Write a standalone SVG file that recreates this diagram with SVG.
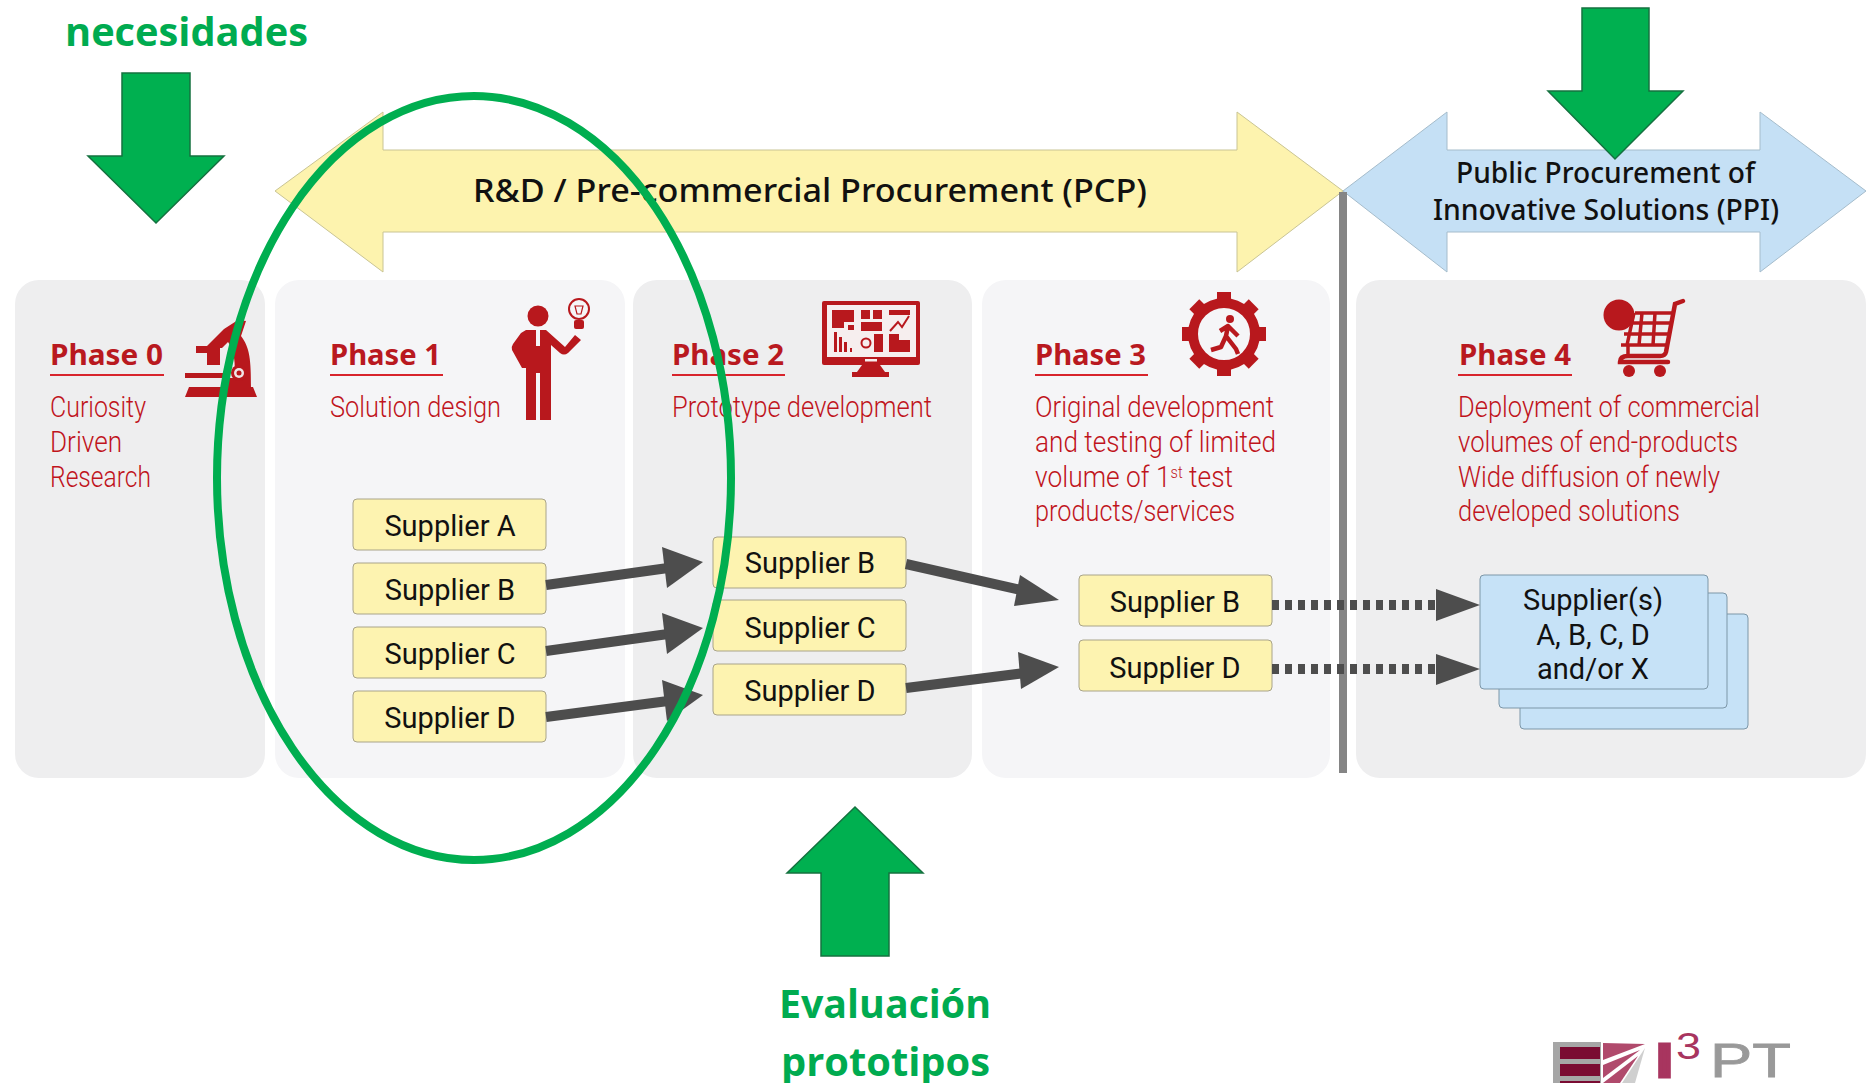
<svg xmlns="http://www.w3.org/2000/svg" width="1869" height="1083" viewBox="0 0 1869 1083">
<style>
.panel{fill:#eeeeef}
.panel2{fill:#f5f5f7}
.ph{font-family:"Noto Sans","DejaVu Sans",sans-serif;font-weight:700;font-size:29px;fill:#b9191f}
.d{font-family:"Roboto","Noto Sans",sans-serif;font-weight:300;font-size:29px;fill:#c0141c}
.ul{stroke:#d8242c;stroke-width:2}
.sup{fill:#fdf3b0;stroke:#a9a48a;stroke-width:1}
.blue{fill:#c6e2f7;stroke:#7d97a8;stroke-width:1}
.st{font-family:"Roboto","Noto Sans",sans-serif;font-weight:400;font-size:29px;fill:#111;text-anchor:middle}
.ti{font-family:"Noto Sans","DejaVu Sans",sans-serif;font-weight:500;font-size:33px;fill:#111}
.pp{font-family:"Noto Sans","DejaVu Sans",sans-serif;font-weight:500;font-size:28px;fill:#111}
.g{font-family:"Open Sans","Noto Sans",sans-serif;font-weight:700;font-size:40px;fill:#00ab50}
.gb{fill:#00b050;stroke:#14713f;stroke-width:1.5}
.ic{fill:#b8181d}
.icl{fill:none;stroke:#b8181d}
.con{stroke:#4d4d4d;stroke-width:10;fill:none}
.dot{stroke:#4d4d4d;stroke-width:10;fill:none;stroke-dasharray:7 6}
.hd{fill:#4d4d4d}
</style>
<rect width="1869" height="1083" fill="#fff"/>
<g id="panels">
<rect class="panel" x="15" y="280" width="250" height="498" rx="24"/>
<rect class="panel2" x="275" y="280" width="350" height="498" rx="24"/>
<rect class="panel" x="633" y="280" width="339" height="498" rx="24"/>
<rect class="panel2" x="982" y="280" width="348" height="498" rx="24"/>
<rect class="panel" x="1356" y="280" width="510" height="498" rx="24"/>
</g>
<g id="pcp-band">
<polygon points="275,191 383,112 383,150 1237,150 1237,112 1343,191 1237,272 1237,232 383,232 383,272" fill="#fdf3ae" stroke="#c9c494" stroke-width="1"/>
<text class="ti" x="473" y="202" textLength="674" lengthAdjust="spacingAndGlyphs">R&amp;D / Pre-commercial Procurement (PCP)</text>
</g>
<g id="ppi-band">
<polygon points="1343,191 1447,112 1447,150 1760,150 1760,112 1866,191 1760,272 1760,232 1447,232 1447,272" fill="#c5e0f5" stroke="#a5bccb" stroke-width="1"/>
<text class="pp" x="1456" y="183" textLength="299" lengthAdjust="spacingAndGlyphs">Public Procurement of</text>
<text class="pp" x="1433" y="220" textLength="346" lengthAdjust="spacingAndGlyphs">Innovative Solutions (PPI)</text>
</g>
<rect id="divider" x="1339" y="192" width="8" height="581" fill="#858585"/>
<g id="phase0">
<text class="ph" x="50" y="365" textLength="113" lengthAdjust="spacingAndGlyphs">Phase 0</text>
<line class="ul" x1="50" y1="375" x2="164" y2="375"/>
<text class="d" x="50" y="417" textLength="96" lengthAdjust="spacingAndGlyphs">Curiosity</text>
<text class="d" x="50" y="452" textLength="72" lengthAdjust="spacingAndGlyphs">Driven</text>
<text class="d" x="50" y="487" textLength="101" lengthAdjust="spacingAndGlyphs">Research</text>
<g id="icon-microscope">
<polygon class="ic" points="185,397 257,397 253,387 189,387"/>
<rect class="ic" x="185" y="373" width="40" height="5"/>
<path class="ic" d="M196,346 H207 L224,329 L238,320 L246,321 L241,336 C250,348 251,360 251,388 H222 V378 H234 C236,364 234,350 228,342 L222,348 H220 V365 H207 V353 H196Z"/>
<circle cx="239" cy="373" r="8" class="ic"/>
<circle cx="239" cy="373" r="5" fill="#f0e6e6"/>
<circle cx="239" cy="373" r="2.5" class="ic"/>
</g>
</g>
<g id="phase1">
<text class="ph" x="330" y="365" textLength="111" lengthAdjust="spacingAndGlyphs">Phase 1</text>
<line class="ul" x1="330" y1="375" x2="443" y2="375"/>
<text class="d" x="330" y="417" textLength="171" lengthAdjust="spacingAndGlyphs">Solution design</text>
<g id="icon-man">
<circle class="ic" cx="538" cy="316" r="10.5"/>
<path class="ic" d="M526,330 H546 L565,347 L575,335 L581,340 L568,353 Q564,356 560,353 L551,345 V420 H540 V373 H536 V420 H526 V368 L522,368 L512,350 Q511,347 513,344 L521,333Z"/>
<path d="M538,330 v16" stroke="#f5f5f7" stroke-width="4"/>
<circle cx="579" cy="309" r="10" fill="#f5f5f7" stroke="#b8181d" stroke-width="2"/>
<rect class="ic" x="574" y="320" width="10" height="9" rx="2"/>
<path class="icl" stroke-width="1.2" d="M575,306 h8 l-2,8 h-4z"/>
</g>
</g>
<g id="phase2">
<text class="ph" x="672" y="365" textLength="112" lengthAdjust="spacingAndGlyphs">Phase 2</text>
<line class="ul" x1="672" y1="375" x2="785" y2="375"/>
<text class="d" x="672" y="417" textLength="260" lengthAdjust="spacingAndGlyphs">Prototype development</text>
<g id="icon-monitor">
<rect class="ic" x="822" y="301" width="98" height="64" rx="2"/>
<rect x="827" y="305" width="89" height="52" fill="#f6eeee"/>
<rect x="865" y="359" width="12" height="2.5" fill="#f6eeee"/>
<polygon class="ic" points="862,365 880,365 885,372 857,372"/>
<rect class="ic" x="852" y="372" width="37" height="5"/>
<g class="ic">
<rect x="832" y="310" width="22" height="12"/><rect x="832" y="322" width="12" height="6"/><rect x="848" y="325" width="6" height="5"/>
<rect x="861" y="310" width="9" height="9"/><rect x="873" y="310" width="9" height="9"/><rect x="861" y="322" width="21" height="9"/>
<rect x="889" y="310" width="21" height="5"/>
<rect x="834" y="332" width="3" height="20"/><rect x="839" y="337" width="3" height="15"/><rect x="844" y="342" width="3" height="10"/><rect x="850" y="348" width="2" height="4"/>
<rect x="874" y="334" width="9" height="18"/>
<polygon points="889,334 899,334 899,340 910,340 910,352 889,352"/>
</g>
<circle cx="866" cy="343" r="4.5" fill="none" stroke="#b8181d" stroke-width="2"/>
<path class="icl" stroke-width="2" d="M890,331 L898,322 L902,327 L909,316"/>
</g>
</g>
<g id="phase3">
<text class="ph" x="1035" y="365" textLength="111" lengthAdjust="spacingAndGlyphs">Phase 3</text>
<line class="ul" x1="1035" y1="375" x2="1148" y2="375"/>
<text class="d" x="1035" y="417" textLength="239" lengthAdjust="spacingAndGlyphs">Original development</text>
<text class="d" x="1035" y="452" textLength="241" lengthAdjust="spacingAndGlyphs">and testing of limited</text>
<text class="d" x="1035" y="487" textLength="198" lengthAdjust="spacingAndGlyphs">volume of 1<tspan font-size="16" dy="-9">st</tspan><tspan dy="9"> test</tspan></text>
<text class="d" x="1035" y="521" textLength="200" lengthAdjust="spacingAndGlyphs">products/services</text>
<g id="icon-gear">
<circle cx="1224" cy="334" r="31" fill="none" stroke="#b8181d" stroke-width="10"/>
<g class="ic">
<rect x="1217" y="292" width="14" height="12" transform="rotate(0 1224 334)"/>
<rect x="1217" y="292" width="14" height="12" transform="rotate(45 1224 334)"/>
<rect x="1217" y="292" width="14" height="12" transform="rotate(90 1224 334)"/>
<rect x="1217" y="292" width="14" height="12" transform="rotate(135 1224 334)"/>
<rect x="1217" y="292" width="14" height="12" transform="rotate(180 1224 334)"/>
<rect x="1217" y="292" width="14" height="12" transform="rotate(225 1224 334)"/>
<rect x="1217" y="292" width="14" height="12" transform="rotate(270 1224 334)"/>
<rect x="1217" y="292" width="14" height="12" transform="rotate(315 1224 334)"/>
</g>
<circle class="ic" cx="1230" cy="319" r="4"/>
<path class="icl" stroke-width="4.5" stroke-linejoin="round" d="M1211,350 L1221,347 L1226,336 L1236,349 L1238,354 M1226,336 L1228,326 L1220,331 M1228,326 L1238,336"/>
</g>
</g>
<g id="phase4">
<text class="ph" x="1459" y="365" textLength="112" lengthAdjust="spacingAndGlyphs">Phase 4</text>
<line class="ul" x1="1458" y1="375" x2="1572" y2="375"/>
<text class="d" x="1458" y="417" textLength="302" lengthAdjust="spacingAndGlyphs">Deployment of commercial</text>
<text class="d" x="1458" y="452" textLength="280" lengthAdjust="spacingAndGlyphs">volumes of end-products</text>
<text class="d" x="1458" y="487" textLength="262" lengthAdjust="spacingAndGlyphs">Wide diffusion of newly</text>
<text class="d" x="1458" y="521" textLength="222" lengthAdjust="spacingAndGlyphs">developed solutions</text>
<g id="icon-cart">
<circle class="ic" cx="1619" cy="315" r="15.5"/>
<path class="icl" stroke-width="4.5" stroke-linecap="round" d="M1683,301 L1675,304 L1666,352 Q1665,356 1660,356 H1628 Q1620,356 1620,362 H1668"/>
<path class="icl" stroke-width="3.5" d="M1635,313 H1674 M1630,323 H1672 M1624,334 H1670 M1621,345 H1668 M1642,313 L1639,345 M1655,313 L1653,345 M1634,313 L1627,345 M1628,345 L1628,356"/>
<circle class="ic" cx="1629" cy="371" r="6"/>
<circle class="ic" cx="1660" cy="371" r="6"/>
</g>
</g>
<g id="suppliers-phase1">
<g id="s1a"><rect class="sup" x="353" y="499" width="193" height="51" rx="4"/><text class="st" x="450" y="536">Supplier A</text></g>
<g id="s1b"><rect class="sup" x="353" y="563" width="193" height="51" rx="4"/><text class="st" x="450" y="600">Supplier B</text></g>
<g id="s1c"><rect class="sup" x="353" y="627" width="193" height="51" rx="4"/><text class="st" x="450" y="664">Supplier C</text></g>
<g id="s1d"><rect class="sup" x="353" y="691" width="193" height="51" rx="4"/><text class="st" x="450" y="728">Supplier D</text></g>
</g>
<g id="suppliers-phase2">
<g id="s2b"><rect class="sup" x="713" y="537" width="193" height="51" rx="4"/><text class="st" x="810" y="573">Supplier B</text></g>
<g id="s2c"><rect class="sup" x="713" y="600" width="193" height="51" rx="4"/><text class="st" x="810" y="638">Supplier C</text></g>
<g id="s2d"><rect class="sup" x="713" y="664" width="193" height="51" rx="4"/><text class="st" x="810" y="701">Supplier D</text></g>
</g>
<g id="suppliers-phase3">
<g id="s3b"><rect class="sup" x="1079" y="575" width="193" height="51" rx="4"/><text class="st" x="1175" y="612">Supplier B</text></g>
<g id="s3d"><rect class="sup" x="1079" y="640" width="193" height="51" rx="4"/><text class="st" x="1175" y="678">Supplier D</text></g>
</g>
<g id="suppliers-phase4">
<rect class="blue" x="1520" y="614" width="228" height="115" rx="4"/>
<rect class="blue" x="1499" y="593" width="228" height="115" rx="4"/>
<rect class="blue" x="1480" y="575" width="228" height="114" rx="4"/>
<text class="st" x="1593" y="610">Supplier(s)</text>
<text class="st" x="1593" y="645">A, B, C, D</text>
<text class="st" x="1593" y="679">and/or X</text>
</g>
<g id="connectors">
<line class="con" x1="546" y1="585" x2="668" y2="568"/><polygon class="hd" points="703,562 662,547 667,588"/>
<line class="con" x1="546" y1="651" x2="668" y2="634"/><polygon class="hd" points="703,628 662,613 667,654"/>
<line class="con" x1="546" y1="717" x2="668" y2="701"/><polygon class="hd" points="703,695 662,680 667,721"/>
<line class="con" x1="906" y1="564" x2="1025" y2="591"/><polygon class="hd" points="1059,600 1020,575 1014,606"/>
<line class="con" x1="906" y1="688" x2="1025" y2="673"/><polygon class="hd" points="1059,667 1018,652 1021,689"/>
<line class="dot" x1="1272" y1="605" x2="1437" y2="605"/><polygon class="hd" points="1480,605 1436,589 1436,621"/>
<line class="dot" x1="1272" y1="669" x2="1437" y2="669"/><polygon class="hd" points="1480,669 1436,654 1436,685"/>
</g>
<g id="annotations">
<ellipse cx="474" cy="478" rx="257" ry="382" fill="none" stroke="#00ae50" stroke-width="8"/>
<polygon class="gb" points="122,73 190,73 190,156 224,156 156,223 88,156 122,156"/>
<polygon class="gb" points="1582,8 1649,8 1649,91 1683,91 1615,159 1548,91 1582,91"/>
<polygon class="gb" points="855,807 923,873 889,873 889,956 821,956 821,873 787,873"/>
<text class="g" x="65" y="46" textLength="243" lengthAdjust="spacingAndGlyphs">necesidades</text>
<text class="g" x="779" y="1018" textLength="212" lengthAdjust="spacingAndGlyphs">Evaluación</text>
<text class="g" x="781" y="1076" textLength="209" lengthAdjust="spacingAndGlyphs">prototipos</text>
</g>
<g id="logo">
<rect x="1553" y="1042" width="48" height="41" fill="#a6a6a6"/>
<rect x="1560" y="1047" width="40" height="12" fill="#7a0b32"/>
<rect x="1560" y="1064" width="40" height="12" fill="#7a0b32"/>
<rect x="1560" y="1081" width="40" height="2" fill="#7a0b32"/>
<polygon points="1603,1043 1645,1044 1603,1060" fill="#b04a6c"/>
<polygon points="1603,1065 1640,1050 1603,1078" fill="#b04a6c"/>
<polygon points="1603,1083 1638,1056 1620,1083" fill="#b04a6c"/>
<polygon points="1622,1083 1645,1048 1635,1083" fill="#cfcfcf"/>
<text x="1656" y="1077" font-family="Liberation Sans" font-weight="700" font-size="48" fill="#a8355f" stroke="#a8355f" stroke-width="3" textLength="17" lengthAdjust="spacingAndGlyphs">I</text>
<text x="1676" y="1059" font-family="Liberation Sans" font-size="36" fill="#a8355f" textLength="25" lengthAdjust="spacingAndGlyphs">3</text>
<text x="1710" y="1077" font-family="Liberation Sans" font-size="49" fill="#999" stroke="#999" stroke-width="0.8" textLength="81" lengthAdjust="spacingAndGlyphs">PT</text>
</g>
</svg>
